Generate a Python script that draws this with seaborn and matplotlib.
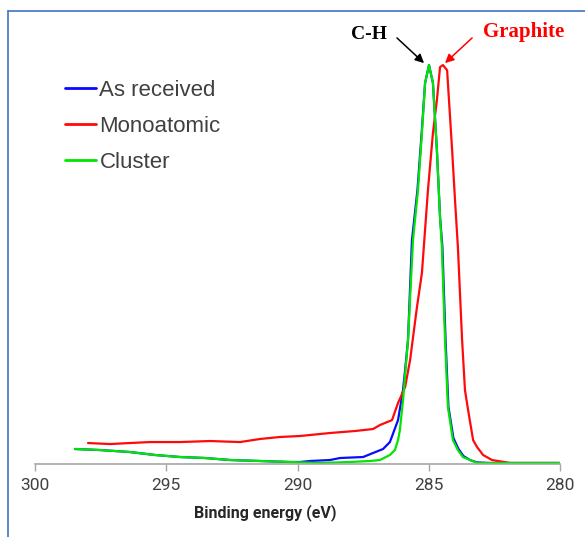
import numpy as np
import pandas as pd
import matplotlib
matplotlib.use("Agg")
import matplotlib.pyplot as plt
from matplotlib.lines import Line2D
import seaborn as sns

# ---- data (binding energy in eV, intensity in arbitrary units, peak = 100) ----
as_received_E = [298.48, 297.52, 296.38, 295.43, 294.48, 293.52, 292.57, 291.43, 290.29,
                 289.90, 289.52, 288.76, 288.38, 287.50, 287.12, 286.74, 286.48, 286.17,
                 285.98, 285.90, 285.79, 285.64, 285.43, 285.27, 285.14, 284.99, 284.84,
                 284.69, 284.57, 284.48, 284.36, 284.25, 284.06, 283.87, 283.68, 283.43,
                 283.16, 282.67, 281.52, 280.00]
as_received_I = [3.76, 3.5, 3.0, 2.26, 1.75, 1.5, 1.0, 0.75, 0.5,
                 0.5, 0.75, 1.0, 1.5, 1.75, 2.76, 3.76, 5.5, 11.0,
                 18.5, 23.6, 31.1, 56.1, 68.7, 83.0, 95.5, 100.0, 95.5,
                 78.7, 61.9, 54.4, 31.1, 14.3, 6.5, 3.8, 2.0, 1.0,
                 0.4, 0.25, 0.25, 0.25]

monoatomic_E = [297.98, 297.14, 296.38, 295.62, 294.48, 293.33, 292.19, 291.43, 290.67,
                289.90, 288.76, 287.81, 287.12, 286.86, 286.40, 286.17, 285.90, 285.71,
                285.45, 285.26, 285.03, 284.84, 284.69, 284.57, 284.46, 284.30, 284.27,
                284.11, 284.00, 283.89, 283.73, 283.62, 283.50, 283.31, 283.16, 282.93,
                282.59, 281.90, 280.95, 280.08]
monoatomic_I = [5.26, 5.0, 5.26, 5.5, 5.5, 5.76, 5.5, 6.27, 6.77,
                7.02, 7.77, 8.27, 8.77, 9.77, 11.0, 15.3, 19.3, 26.1,
                39.3, 47.9, 68.7, 83.0, 91.2, 99.5, 100.0, 98.7, 95.5,
                78.7, 66.2, 54.4, 31.1, 18.5, 13.5, 6.0, 4.26, 2.26,
                1.0, 0.25, 0.25, 0.25]

cluster_E = [298.48, 297.52, 296.38, 295.43, 294.48, 293.52, 292.57, 291.43, 290.29,
             289.14, 288.00, 287.24, 286.86, 286.48, 286.29, 286.17, 286.10, 285.98,
             285.79, 285.60, 285.41, 285.26, 285.14, 284.99, 284.84, 284.69, 284.57,
             284.50, 284.38, 284.27, 284.08, 283.89, 283.70, 283.43, 283.16, 282.67,
             281.52, 280.00]
cluster_I = [3.76, 3.5, 3.0, 2.26, 1.75, 1.5, 1.0, 0.75, 0.5,
             0.25, 0.5, 0.75, 1.0, 2.26, 3.5, 6.0, 8.5, 16.0,
             31.1, 56.1, 68.7, 83.0, 95.5, 100.0, 95.5, 78.7, 61.9,
             54.4, 31.1, 14.3, 6.0, 3.5, 1.75, 1.0, 0.25, 0.25,
             0.25, 0.25]

series_names = ["As received", "Monoatomic", "Cluster"]
series_colors = ["#0a0aff", "#ff0a0a", "#00e600"]
x_ticks = [300, 295, 290, 285, 280]

frames = []
for name, E, I in zip(series_names,
                      [as_received_E, monoatomic_E, cluster_E],
                      [as_received_I, monoatomic_I, cluster_I]):
    frames.append(pd.DataFrame({"E": E, "I": I, "series": name}))
df = pd.concat(frames, ignore_index=True)

sns.set_theme(style="white")
plt.rcParams["font.family"] = ["Liberation Sans", "DejaVu Sans"]

W, H = 585, 537
fig = plt.figure(figsize=(W / 100, H / 100), dpi=100)
ax = fig.add_axes([35 / W, (H - 464) / H, 525 / W, 444 / H])

sns.lineplot(data=df, x="E", y="I", hue="series", hue_order=series_names,
             palette=dict(zip(series_names, series_colors)), sort=False,
             estimator=None, linewidth=1.6, ax=ax, legend=False)

ax.set_xlim(300, 280)
ax.set_ylim(0, 111.3)
ax.set_yticks([])
ax.set_ylabel("")
ax.set_xticks(x_ticks)
ax.set_xticklabels([str(t) for t in x_ticks], family="Roboto",
                   fontsize=12.5, color="#404040")
for s in ["top", "left", "right"]:
    ax.spines[s].set_visible(False)
ax.spines["bottom"].set_color("#a6a6a6")
ax.spines["bottom"].set_linewidth(1.2)
ax.tick_params(axis="x", direction="out", length=5, width=1, color="#a6a6a6", pad=5,
               bottom=True)
ax.set_xlabel("Binding energy (eV)", family="Roboto", fontsize=11.5,
              fontweight="bold", color="#262626")
ax.xaxis.set_label_coords((265.5 - 35) / 525, -(504 - 464) / 444)
ax.xaxis.label.set_verticalalignment("top")

# legend
handles = [Line2D([0], [0], color=c, lw=2) for c in series_colors]
leg = fig.legend(handles, series_names, loc="upper left",
                 bbox_to_anchor=(65 / W, 1 - 80 / H), frameon=False,
                 fontsize=16, handlelength=1.4, handletextpad=0.15,
                 labelspacing=0.68, borderpad=0, borderaxespad=0)
for t in leg.get_texts():
    t.set_color("#404040")

# annotations
ax.annotate("", xy=(285.18, 100.5), xytext=(286.21, 106.8),
            arrowprops=dict(arrowstyle="-|>", color="black", lw=1.1,
                            mutation_scale=13, shrinkA=0, shrinkB=0),
            annotation_clip=False)
ax.text(287.28, 107.6, "C-H", family="Liberation Serif", fontweight="bold",
        fontsize=14, color="black", ha="center", va="center", clip_on=False)
ax.annotate("", xy=(284.38, 100.5), xytext=(283.35, 106.8),
            arrowprops=dict(arrowstyle="-|>", color="red", lw=1.1,
                            mutation_scale=13, shrinkA=0, shrinkB=0),
            annotation_clip=False)
ax.text(281.37, 108.3, "Graphite", family="Liberation Serif", fontweight="bold",
        fontsize=15, color="red", ha="center", va="center", clip_on=False)

# outer frame lines (top and left)
frame_color = "#4472c4"
fig.add_artist(Line2D([8 / W, 1.0], [1 - 11 / H, 1 - 11 / H], color=frame_color,
                      lw=1.2, transform=fig.transFigure))
fig.add_artist(Line2D([8 / W, 8 / W], [0, 1 - 11 / H], color=frame_color,
                      lw=1.2, transform=fig.transFigure))

fig.savefig("out.png", dpi=100, facecolor="white")
